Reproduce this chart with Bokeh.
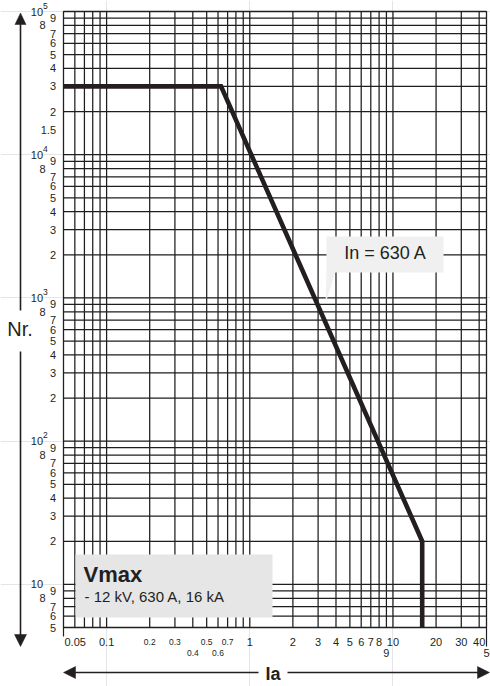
import math
from bokeh.plotting import figure
from bokeh.core.properties import value
from bokeh.embed import file_html
from bokeh.resources import INLINE

# ---------------- data ----------------
ia_ka = [0.05, 0.63, 16, 16]          # Ia (kA)
nr_ops = [30000, 30000, 20, 5]        # number of operations

x_grid_values = [0.06, 0.07, 0.08, 0.09, 0.1, 0.2, 0.3, 0.4, 0.5, 0.6, 0.7, 0.8, 0.9,
                 1, 2, 3, 4, 5, 6, 7, 8, 9, 10, 20, 30, 40]
y_mantissas = [1, 2, 3, 4, 5, 6, 7, 8, 9]
y_decades = [1, 10, 100, 1000, 10000]

x_tick_values = [0.05, 0.1, 0.2, 0.3, 0.4, 0.5, 0.6, 0.7, 1, 2, 3, 4, 5, 6, 7, 8, 9,
                 10, 20, 30, 40, 50]
x_tick_labels = ["0.05", "0.1", "0.2", "0.3", "0.4", "0.5", "0.6", "0.7", "1", "2", "3",
                 "4", "5", "6", "7", "8", "9", "10", "20", "30", "40", "50"]
x_tick_rows = [1, 1, 1, 1, 2, 1, 2, 1, 1, 1, 1, 1, 1, 1, 1, 1, 2, 1, 1, 1, 1, 2]
x_tick_small = [False, False, True, True, True, True, True, True, False, False, False,
                False, False, False, False, False, False, False, False, False, False, False]

decade_values = [10, 100, 1000, 10000, 100000]
decade_sup = ["", "2", "3", "4", "5"]

# ---------------- geometry (canvas pixels) ----------------
X0, X1 = 0.05, 45.0          # chart box: x from 0.05 to right border
Y0, Y1 = 5.0, 1e5
FL, FR, FT, FB = 63, 486, 11, 627
W, H = 490, 686
Dx = (FR - FL) / math.log10(X1 / X0)
Dy = (FB - FT) / math.log10(Y1 / Y0)


def X(px):
    return X0 * 10 ** ((px - FL) / Dx)


def Y(py):
    return Y1 * 10 ** (-(py - FT) / Dy)


def PY(v):
    return FT + math.log10(Y1 / v) * Dy


INK = "#231f20"
FONT = "Liberation Sans"

p = figure(width=W, height=H, x_axis_type="log", y_axis_type="log",
           x_range=(X(0), X(W)), y_range=(Y(H), Y(0)),
           x_axis_location=None, y_axis_location=None,
           min_border=0, min_border_left=0, min_border_right=0,
           min_border_top=0, min_border_bottom=0,
           output_backend="svg", toolbar_location=None, title=None)
p.background_fill_color = "white"
p.border_fill_color = "white"
p.outline_line_color = None

GRID = "#1e1e1e"
y_grid_values = [m * d for d in y_decades for m in y_mantissas if Y0 < m * d < Y1]

# grid lines
p.segment(x0=x_grid_values, y0=[Y0] * len(x_grid_values),
          x1=x_grid_values, y1=[Y1] * len(x_grid_values),
          line_color=GRID, line_width=1.25)
p.segment(x0=[X0] * len(y_grid_values), y0=y_grid_values,
          x1=[X1] * len(y_grid_values), y1=y_grid_values,
          line_color=GRID, line_width=1.25)
# chart border
p.quad(left=[X0], right=[X1], bottom=[Y0], top=[Y1], fill_color=None,
       line_color=INK, line_width=1.3)

# main curve
p.line(ia_ka, nr_ops, line_color=INK, line_width=4.6, line_join="miter")


def txt(px, py, s, size, align="left", bold=False):
    p.text(x=[X(px)], y=[Y(py)], text=[s], text_font=value(FONT),
           text_font_size=size, text_font_style="bold" if bold else "normal",
           text_color=INK, text_baseline="middle", text_align=align)


# ---- Vmax box ----
p.quad(left=[X(75)], right=[X(272)], top=[Y(554)], bottom=[Y(617)],
       fill_color="#e6e6e6", line_color=None)
txt(83, 573.5, "Vmax", "22px", bold=True)
txt(84, 596, "- 12 kV, 630 A, 16 kA", "15px")

# ---- callout In = 630 A ----
p.quad(left=[X(326)], right=[X(443)], top=[Y(236)], bottom=[Y(272)],
       fill_color="#f0f0f0", line_color=None)
p.patch(x=[X(326), X(335), X(325)], y=[Y(271), Y(271), Y(303)],
        fill_color="#f0f0f0", line_color=None)
txt(385, 252, "In = 630 A", "18px", align="center")

# ---- y tick labels ----
for d in y_decades:
    for m in y_mantissas[1:]:
        v = m * d
        if v < Y0 or v >= Y1:
            continue
        txt(45 if m == 8 else 55.5, PY(v), str(m), "11px", align="right")
txt(55.5, PY(15000), "1.5", "11px", align="right")
for v, s in zip(decade_values, decade_sup):
    txt(42.5, PY(v), "10", "11px", align="right")
    if s:
        txt(42.5, PY(v) - 6, s, "8.5px")

# ---- x tick labels ----
for v, t, r, sm in zip(x_tick_values, x_tick_labels, x_tick_rows, x_tick_small):
    cy = 641.5 if r == 1 else 652.5
    size = "8.5px" if sm else "11px"
    if v == 0.05:
        p.text(x=[X(64)], y=[Y(cy)], text=[t], text_font=value(FONT), text_font_size=size,
               text_color=INK, text_baseline="middle", text_align="left")
    elif v == 50:
        p.text(x=[X(489)], y=[Y(cy)], text=[t], text_font=value(FONT), text_font_size=size,
               text_color=INK, text_baseline="middle", text_align="center")
    else:
        p.text(x=[v], y=[Y(cy)], text=[t], text_font=value(FONT), text_font_size=size,
               text_color=INK, text_baseline="middle", text_align="center")

# end ticks below chart box
p.segment(x0=[X(FL), X(FR)], y0=[Y(FB), Y(FB)], x1=[X(FL), X(FR)], y1=[Y(636), Y(646)],
          line_color=INK, line_width=1.2)

# ---- axis arrows ----
shafts = [(20, 20, 20, 310), (20, 351, 20, 638), (70, 672, 258, 672), (287, 672, 482, 672)]
p.segment(x0=[X(a) for a, b, c, d in shafts], y0=[Y(b) for a, b, c, d in shafts],
          x1=[X(c) for a, b, c, d in shafts], y1=[Y(d) for a, b, c, d in shafts],
          line_color=INK, line_width=1.6)
heads = [
    [(20, 12.5), (14.5, 24), (25.5, 24)],
    [(20, 646), (14, 634), (26, 634)],
    [(63, 672), (75, 666), (75, 678)],
    [(489, 672), (477, 666), (477, 678)],
]
p.patches(xs=[[X(a) for a, b in h] for h in heads], ys=[[Y(b) for a, b in h] for h in heads],
          fill_color=INK, line_color=INK, line_width=0.5)

txt(19.5, 328.5, "Nr.", "20px", align="center")
txt(272.5, 673.5, "Ia", "18px", align="center", bold=True)

open("out.html", "w").write(file_html(p, INLINE))
